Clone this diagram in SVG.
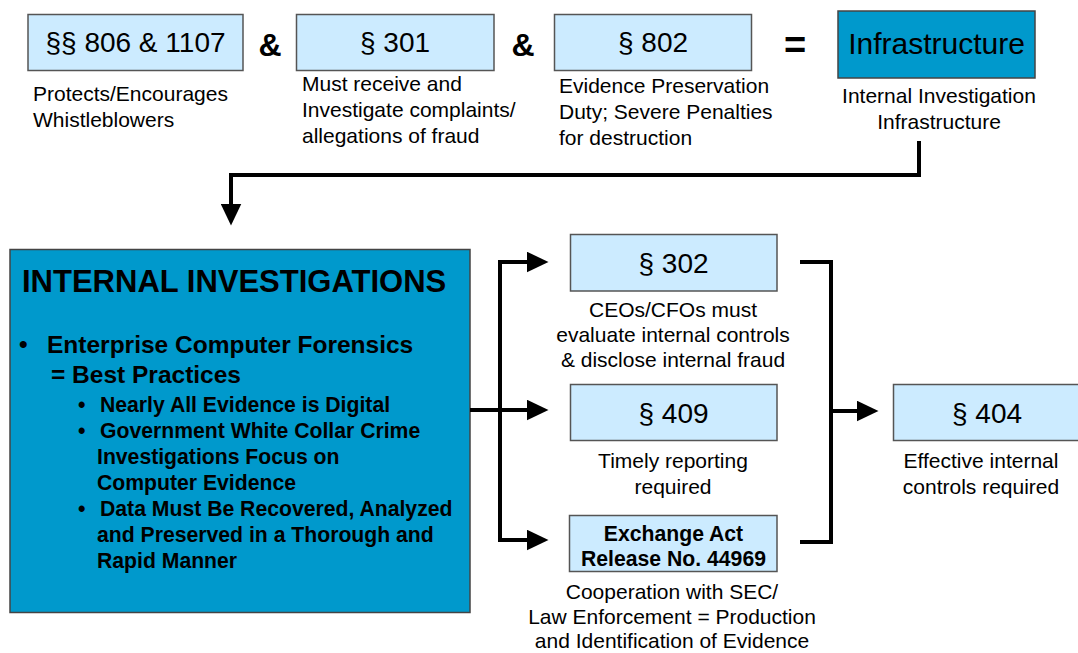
<svg xmlns="http://www.w3.org/2000/svg" width="1078" height="653" viewBox="0 0 1078 653">
  <style>
    text { font-family: "Liberation Sans", Arial, sans-serif; fill: #000; }
    .lbox { fill: #CCEBFF; stroke: #555; stroke-width: 1.5; }
    .dbox { fill: #0099CC; stroke: #444; stroke-width: 1.5; }
    .title { font-size: 28px; text-anchor: middle; }
    .cap { font-size: 21px; }
    .mid { text-anchor: middle; }
    .op { font-weight: bold; text-anchor: middle; }
    .b1 { font-size: 24.5px; font-weight: bold; }
    .b2 { font-size: 21.2px; font-weight: bold; }
    .wire { fill: none; stroke: #000; stroke-width: 4; stroke-linejoin: miter; }
  </style>
  <defs>
    <marker id="arrow" viewBox="0 0 22 21" refX="0.5" refY="10.5" markerWidth="22" markerHeight="21" markerUnits="userSpaceOnUse" orient="auto-start-reverse">
      <path d="M0,0 L22,10.5 L0,21 Z" fill="#000"/>
    </marker>
  </defs>

  <rect width="1078" height="653" fill="#fff"/>

  <!-- top row: sections combined into the infrastructure -->
  <g id="sec806">
    <rect class="lbox" x="28" y="14.5" width="215" height="56"/>
    <text class="title" x="135.5" y="52">§§ 806 &amp; 1107</text>
    <text class="cap" x="33" y="101">Protects/Encourages</text>
    <text class="cap" x="33" y="127">Whistleblowers</text>
  </g>
  <text class="op" x="270" y="56" font-size="32">&amp;</text>
  <g id="sec301">
    <rect class="lbox" x="296.5" y="14.5" width="197.5" height="56"/>
    <text class="title" x="395" y="52">§ 301</text>
    <text class="cap" x="302" y="91">Must receive and</text>
    <text class="cap" x="302" y="117">Investigate complaints/</text>
    <text class="cap" x="302" y="143">allegations of fraud</text>
  </g>
  <text class="op" x="523" y="56" font-size="32">&amp;</text>
  <g id="sec802">
    <rect class="lbox" x="554.5" y="14.5" width="197" height="56"/>
    <text class="title" x="653" y="52">§ 802</text>
    <text class="cap" x="559" y="93">Evidence Preservation</text>
    <text class="cap" x="559" y="119">Duty; Severe Penalties</text>
    <text class="cap" x="559" y="145">for destruction</text>
  </g>
  <text class="op" x="795" y="58" font-size="38">=</text>
  <g id="infrastructure">
    <rect class="dbox" x="838" y="11" width="197" height="67"/>
    <text x="936.5" y="54" font-size="30" text-anchor="middle">Infrastructure</text>
    <text class="cap mid" x="939" y="103">Internal Investigation</text>
    <text class="cap mid" x="939" y="129">Infrastructure</text>
  </g>

  <!-- main investigations block -->
  <g id="internal-investigations">
    <rect class="dbox" x="10" y="249.5" width="460" height="363"/>
    <text x="22" y="292" font-size="31" font-weight="bold">INTERNAL INVESTIGATIONS</text>
    <text class="b1" x="19" y="353">•</text>
    <text class="b1" x="47" y="353">Enterprise Computer Forensics</text>
    <text class="b1" x="51" y="383">= Best Practices</text>
    <text class="b2" x="78" y="412">•</text>
    <text class="b2" x="100" y="412">Nearly All Evidence is Digital</text>
    <text class="b2" x="78" y="438">•</text>
    <text class="b2" x="100" y="438">Government White Collar Crime</text>
    <text class="b2" x="97" y="464">Investigations Focus on</text>
    <text class="b2" x="97" y="490">Computer Evidence</text>
    <text class="b2" x="78" y="516">•</text>
    <text class="b2" x="100" y="516">Data Must Be Recovered, Analyzed</text>
    <text class="b2" x="97" y="542">and Preserved in a Thorough and</text>
    <text class="b2" x="97" y="568">Rapid Manner</text>
  </g>

  <!-- resulting obligations -->
  <g id="sec302">
    <rect class="lbox" x="570.5" y="234.5" width="206.5" height="56.5"/>
    <text class="title" x="673.5" y="273">§ 302</text>
    <text class="cap mid" x="673" y="317">CEOs/CFOs must</text>
    <text class="cap mid" x="673" y="342">evaluate internal controls</text>
    <text class="cap mid" x="673" y="367">&amp; disclose internal fraud</text>
  </g>
  <g id="sec409">
    <rect class="lbox" x="570.5" y="384.5" width="206.5" height="56"/>
    <text class="title" x="673.5" y="422.5">§ 409</text>
    <text class="cap mid" x="673" y="468">Timely reporting</text>
    <text class="cap mid" x="673" y="494">required</text>
  </g>
  <g id="exchange-act">
    <rect class="lbox" x="569.5" y="515.5" width="207.5" height="56"/>
    <text class="b2 mid" x="673.5" y="541">Exchange Act</text>
    <text class="b2 mid" x="673.5" y="566">Release No. 44969</text>
    <text class="cap mid" x="672" y="599">Cooperation with SEC/</text>
    <text class="cap mid" x="672" y="624">Law Enforcement = Production</text>
    <text class="cap mid" x="672" y="648">and Identification of Evidence</text>
  </g>
  <g id="sec404">
    <rect class="lbox" x="893.5" y="384.5" width="200" height="56"/>
    <text class="title" x="987" y="422.5">§ 404</text>
    <text class="cap mid" x="981" y="468">Effective internal</text>
    <text class="cap mid" x="981" y="494">controls required</text>
  </g>

  <!-- connectors -->
  <g id="connectors">
    <path class="wire" d="M919,141 V175 H231 V204" marker-end="url(#arrow)"/>
    <path class="wire" d="M470,410 H527" marker-end="url(#arrow)"/>
    <path class="wire" d="M527,262 H500 V540 H527" marker-start="url(#arrow)" marker-end="url(#arrow)"/>
    <path class="wire" d="M800,262 H831 V542 H800"/>
    <path class="wire" d="M831,411 H857" marker-end="url(#arrow)"/>
  </g>
</svg>
